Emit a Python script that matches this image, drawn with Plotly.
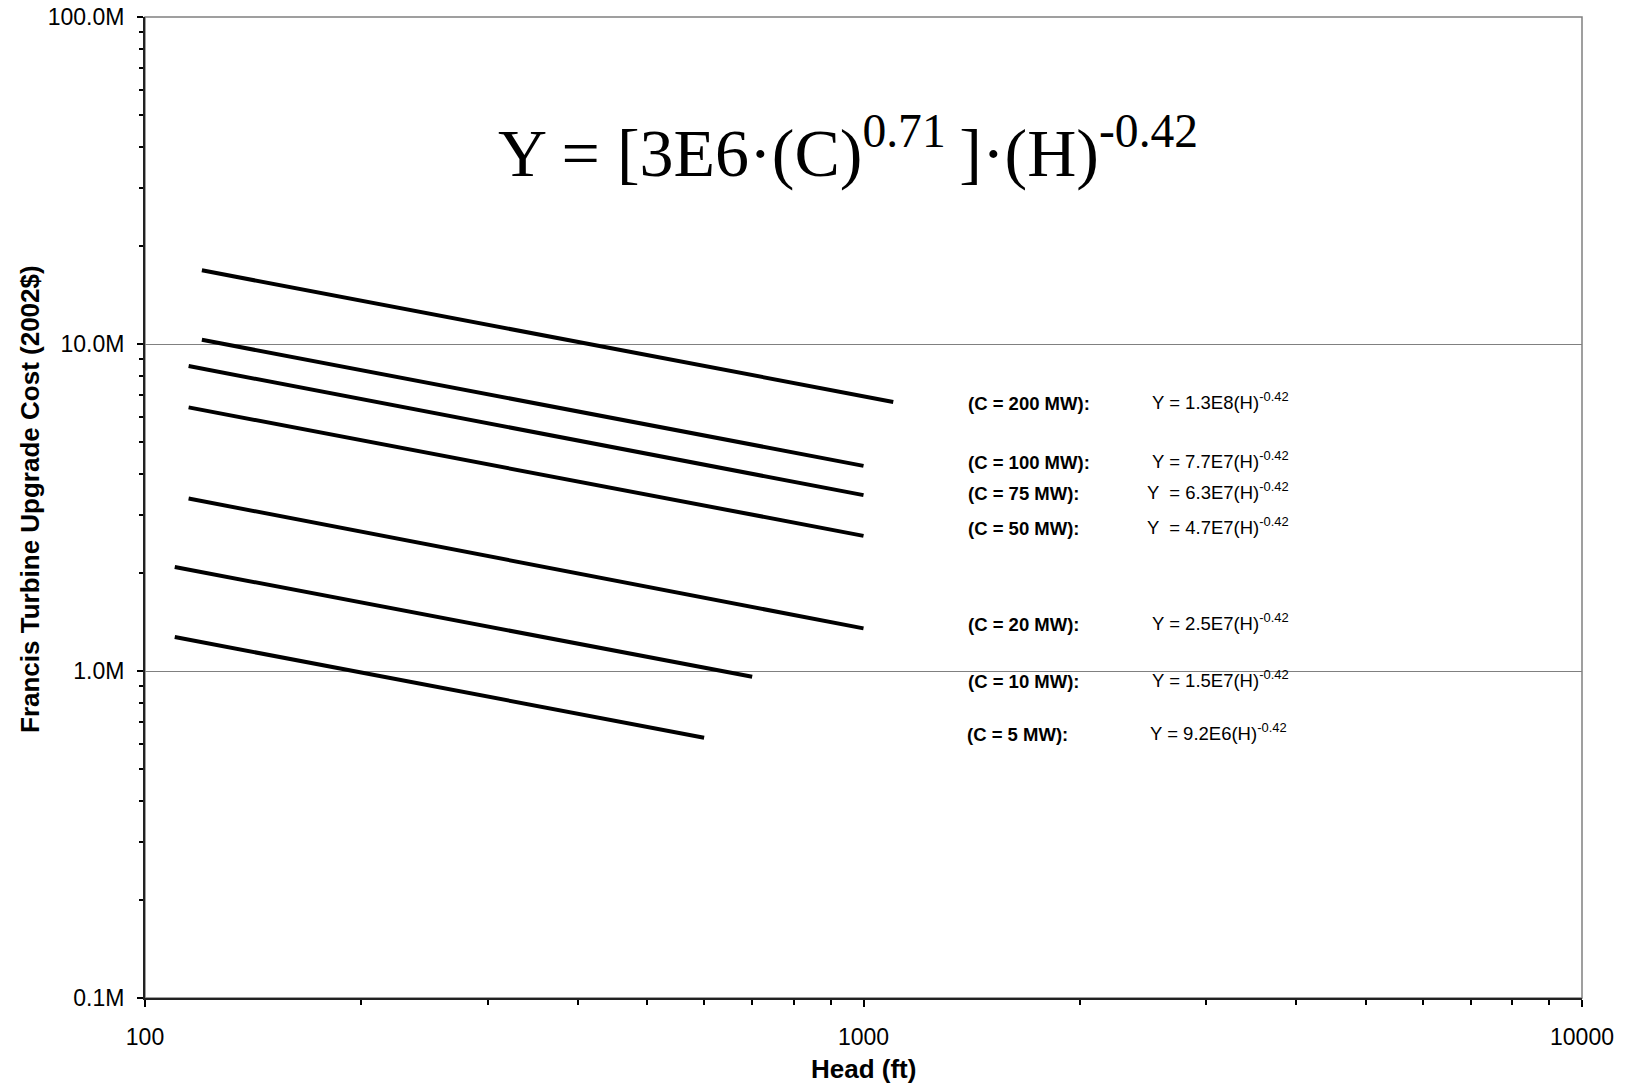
import plotly.graph_objects as go

# ---- data ----
capacity_labels = ["(C = 200 MW):", "(C = 100 MW):", "(C = 75 MW):", "(C = 50 MW):",
                   "(C = 20 MW):", "(C = 10 MW):", "(C = 5 MW):"]
equation_labels = ["Y = 1.3E8(H)", "Y = 7.7E7(H)", "Y  = 6.3E7(H)", "Y  = 4.7E7(H)",
                   "Y = 2.5E7(H)", "Y = 1.5E7(H)", "Y = 9.2E6(H)"]
head_start = [120, 120, 115, 115, 115, 110, 110]
head_end = [1100, 1000, 1000, 1000, 1000, 700, 600]
cost_start = [16.8e6, 10.3e6, 8.56e6, 6.40e6, 3.37e6, 2.08e6, 1.27e6]
cost_end = [6.65e6, 4.24e6, 3.45e6, 2.59e6, 1.35e6, 0.96e6, 0.625e6]

y_tickvals = [1e5, 1e6, 1e7, 1e8]
y_ticktext = ["0.1M", "1.0M", "10.0M", "100.0M"]
x_tickvals = [100, 1000, 10000]
x_ticktext = ["100", "1000", "10000"]

# ---- layout geometry (pixels of the 1627x1087 page) ----
W, H = 1627, 1087
L, R, T, B = 145, 45, 17, 89
PW, PH = W - L - R, H - T - B


def px(xp):
    return (xp - L) / PW


def py(yp):
    return (H - B - yp) / PH


label_x_bold = [966, 966, 966, 966, 966, 966, 965]
label_x_eq = [1150, 1150, 1145, 1145, 1150, 1150, 1148]
label_y = [403, 462, 493, 528, 624, 681, 734]

fig = go.Figure()
for i in range(len(capacity_labels)):
    fig.add_trace(go.Scatter(
        x=[head_start[i], head_end[i]], y=[cost_start[i], cost_end[i]],
        mode="lines", line=dict(color="black", width=4), showlegend=False,
        hoverinfo="skip"))

annotations = []
for i in range(len(capacity_labels)):
    annotations.append(dict(
        xref="paper", yref="paper", x=px(label_x_bold[i]), y=py(label_y[i]),
        xanchor="left", yanchor="middle", showarrow=False,
        text="<b>" + capacity_labels[i] + "</b>",
        font=dict(family="Liberation Sans, Arial", size=18.5, color="black")))
    annotations.append(dict(
        xref="paper", yref="paper", x=px(label_x_eq[i]), y=py(label_y[i]),
        xanchor="left", yanchor="middle", showarrow=False, yshift=2,
        text=equation_labels[i] + "<sup>-0.42</sup>",
        font=dict(family="Liberation Sans, Arial", size=18.5, color="black")))

annotations.append(dict(
    xref="paper", yref="paper", x=px(848), y=py(148), xanchor="center", yanchor="middle",
    showarrow=False,
    text="Y = [3E6\u00b7(C)<sup>0.71</sup>\u2009]\u00b7(H)<sup>-0.42</sup>",
    font=dict(family="Liberation Serif, Times New Roman", size=68, color="black")))

annotations.append(dict(
    xref="paper", yref="paper", x=0.5, y=py(1069), xanchor="center", yanchor="middle",
    showarrow=False, text="<b>Head (ft)</b>",
    font=dict(family="Liberation Sans, Arial", size=26, color="black")))

annotations.append(dict(
    xref="paper", yref="paper", x=px(30), y=py(499), xanchor="center", yanchor="middle",
    showarrow=False, textangle=-90, text="<b>Francis Turbine Upgrade Cost (2002$)</b>",
    font=dict(family="Liberation Sans, Arial", size=26, color="black")))

x_minor = [k * 10 ** d for d in (2, 3) for k in range(2, 10)]
y_minor = [k * 10 ** d for d in (5, 6, 7) for k in range(2, 10)]

fig.update_layout(
    width=W, height=H,
    margin=dict(l=L, r=R, t=T, b=B, autoexpand=False),
    paper_bgcolor="white", plot_bgcolor="white",
    showlegend=False,
    annotations=annotations,
    shapes=[dict(type="rect", xref="paper", yref="paper", x0=0, x1=1, y0=0, y1=1,
                 line=dict(color="#808080", width=1.5), layer="below")],
    xaxis=dict(
        type="log", range=[2, 4], tickvals=x_tickvals, ticktext=x_ticktext,
        automargin=False,
        ticks="outside", ticklen=7, tickwidth=1.5, tickcolor="black",
        showline=True, linecolor="#222222", linewidth=2, showgrid=False, zeroline=False,
        tickfont=dict(family="Liberation Sans, Arial", size=23, color="black"),
        ticklabelstandoff=10,
        minor=dict(tickvals=x_minor, ticks="outside", ticklen=5, tickwidth=1.5,
                   tickcolor="black", showgrid=False)),
    yaxis=dict(
        type="log", range=[5, 8], tickvals=y_tickvals, ticktext=y_ticktext,
        automargin=False,
        ticks="outside", ticklen=6, tickwidth=1.5, tickcolor="black",
        showline=True, linecolor="#222222", linewidth=2,
        showgrid=True, gridcolor="#808080", gridwidth=1, zeroline=False,
        tickfont=dict(family="Liberation Sans, Arial", size=23, color="black"),
        ticklabelstandoff=8,
        minor=dict(tickvals=y_minor, ticks="outside", ticklen=4, tickwidth=1.5,
                   tickcolor="black", showgrid=False)),
)

fig.write_html(
    "out.html",
    config={"displayModeBar": False},
    post_script="document.body.style.margin='0';document.body.style.padding='0';"
                "document.documentElement.style.overflow='hidden';",
)
